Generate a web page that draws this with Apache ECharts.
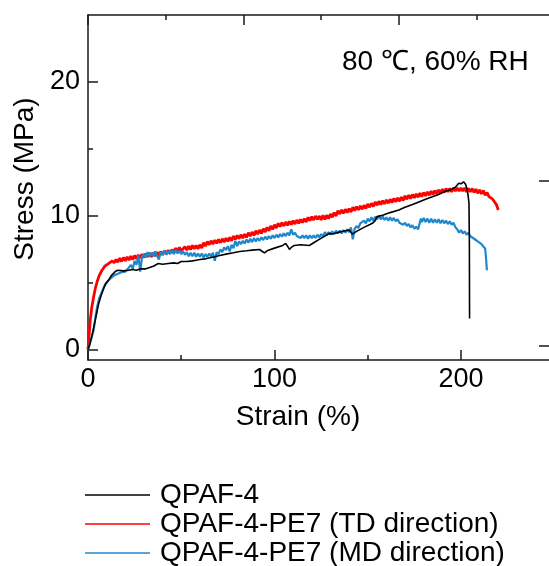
<!DOCTYPE html>
<html>
<head>
<meta charset="utf-8">
<script src="https://cdn.jsdelivr.net/npm/echarts@6/dist/echarts.min.js"></script>
<style>
  html, body { margin: 0; padding: 0; background: #fff; }
  #chart { width: 549px; height: 566px; }
</style>
</head>
<body>
<div id="chart"></div>
<script>
// data: [strain (%), stress (MPa)]
var qpaf4 = [[0,0],[1,0.4],[2.1,1.0],[3,1.6],[3.9,2.2],[4.8,2.8],[5.7,3.4],[7,4.0],[8.3,4.5],[9.5,4.9],[11,5.15],[12.5,5.5],[14.6,5.8],[16,5.9],[17,5.8],[19,5.85],[21.7,5.9],[24,5.95],[26,5.9],[28,6.0],[30.6,6.0],[33,6.1],[35,6.2],[37.7,6.4],[40,6.35],[43,6.4],[46,6.45],[48,6.4],[50,6.55],[53,6.55],[56,6.6],[58,6.65],[60,6.7],[63,6.75],[66,6.85],[68,6.9],[70.6,7.0],[74,7.1],[78,7.2],[81.3,7.3],[85,7.35],[88,7.4],[92,7.45],[93.5,7.3],[94.7,7.2],[96,7.35],[97,7.45],[100,7.55],[104.4,7.75],[106,7.9],[107,7.7],[108,7.45],[109,7.6],[110.6,7.75],[114,7.8],[118.7,7.75],[121,7.95],[124,8.2],[127,8.45],[129.4,8.65],[131,8.6],[135,8.75],[140,8.9],[141.8,8.6],[144,8.8],[148,9.1],[152.5,9.4],[154,9.6],[155,9.9],[158,10.0],[162,10.2],[166.7,10.4],[170,10.6],[174,10.8],[177.4,11.0],[181,11.2],[185,11.4],[188,11.55],[191,11.75],[195,11.95],[197,12.1],[198.8,12.4],[200,12.35],[201.4,12.5],[202.5,12.3],[203.2,12.0],[203.8,11.5],[204.3,10.9],[204.5,8.0],[204.6,2.3]];

var pe7TD = [[0,0],[0.6,1.0],[1.2,2.2],[2,3.1],[3,3.9],[4,4.6],[4.8,5.0],[6,5.5],[7.5,5.9],[9,6.2],[11,6.4],[12,6.3],[13,6.6],[14,6.45],[15,6.7],[16,6.5],[17,6.8],[18,6.55],[19,6.85],[20,6.6],[21,6.9],[22,6.65],[23,6.95],[24,6.7],[25,7.0],[26,6.75],[27,7.05],[28,6.8],[29,7.1],[30,6.85],[31,7.15],[32,6.9],[33,7.2],[34,6.9],[35,7.2],[36,6.95],[37,7.25],[38,7.0],[39,7.3],[40,7.05],[41,7.35],[42,7.1],[43,7.4],[44,7.15],[45,7.45],[46,7.2],[47,7.55],[48,7.3],[49,7.6],[50,7.35],[52,7.65],[53,7.4],[54,7.7],[55,7.45],[56,7.75],[57,7.5],[58,7.75],[59,7.5],[60,7.8],[61,7.55],[62,7.95],[63,7.7],[64,8.05],[65,7.8],[66,8.1],[67,7.85],[68,8.15],[69,7.9],[70,8.2],[71,7.95],[72,8.25],[73,8.0],[74,8.3],[75,8.05],[76,8.35],[77,8.1],[78,8.45],[79,8.2],[80,8.5],[81,8.25],[82,8.55],[83,8.3],[84,8.6],[85,8.35],[86,8.7],[87,8.45],[88,8.75],[89,8.5],[90,8.85],[91,8.6],[92,8.9],[93,8.65],[94,9.0],[95,8.75],[96,9.1],[97,8.85],[98,9.2],[99,8.95],[100,9.3],[101,9.05],[102,9.4],[103,9.15],[104,9.45],[105,9.2],[106,9.5],[107,9.25],[108,9.55],[109,9.3],[110,9.6],[111,9.35],[112,9.65],[113,9.4],[114,9.7],[115,9.45],[116,9.75],[117,9.5],[118,9.85],[119,9.6],[120,9.9],[121,9.65],[122,9.95],[123,9.7],[124,9.95],[125,9.65],[126,10.0],[127,9.7],[128,10.0],[129,9.75],[130,10.1],[131,9.85],[132,10.2],[133,9.95],[134,10.35],[135,10.1],[136,10.4],[137,10.15],[138,10.45],[139,10.2],[140,10.5],[141,10.25],[142,10.6],[143,10.35],[144,10.65],[145,10.4],[146,10.7],[147,10.45],[148,10.75],[149,10.5],[150,10.85],[151,10.6],[152,10.9],[153,10.65],[154,11.0],[155,10.75],[156,11.05],[157,10.8],[158,11.1],[159,10.85],[160,11.15],[161,10.9],[162,11.2],[163,10.95],[164,11.25],[165,11.0],[166,11.3],[167,11.05],[168,11.35],[169,11.1],[170,11.45],[171,11.2],[172,11.5],[173,11.25],[174,11.55],[175,11.3],[176,11.6],[177,11.35],[178,11.65],[179,11.4],[180,11.7],[181,11.45],[182,11.75],[183,11.5],[184,11.8],[185,11.55],[186,11.85],[187,11.6],[188,11.9],[189,11.65],[190,11.95],[191,11.7],[192,12.0],[193,11.75],[194,12.0],[195,11.75],[196,12.05],[197,11.8],[198,12.05],[199,11.8],[200,12.05],[201,11.8],[202,12.05],[203,11.75],[204,12.0],[205,11.75],[206,12.0],[207,11.7],[208,11.95],[209,11.65],[210,11.9],[211,11.6],[212,11.85],[213,11.5],[214,11.7],[215,11.4],[216,11.45],[217,11.2],[218,11.1],[219,10.8],[220,10.4]];

var pe7MD = [[0,0],[1,0.4],[2,0.9],[3,1.4],[3.8,2.2],[4.8,3.1],[6,3.8],[7.5,4.3],[9,4.8],[11,5.15],[13,5.4],[14.5,5.55],[16.3,5.65],[18,5.75],[20,5.8],[21,5.95],[22,5.85],[23,6.3],[24,6.0],[25,6.6],[26,6.3],[27,7.0],[28,5.8],[29,6.9],[30,7.1],[31,6.85],[32,7.25],[33,6.95],[34,7.2],[35,6.95],[36,7.3],[37,7.0],[38,6.7],[39,7.25],[40,7.05],[41,7.35],[42,7.05],[43,7.35],[44,7.1],[45,7.4],[46,7.1],[47,7.4],[48,7.15],[49,7.35],[50,7.1],[51,7.3],[52,7.05],[53,7.25],[54,6.95],[55,7.2],[56,6.95],[57,7.2],[58,6.9],[59,7.15],[60,6.9],[61,7.15],[62,6.85],[63,7.1],[64,6.9],[65,7.15],[66,6.9],[67,7.2],[68,6.6],[69,7.25],[70,7.1],[71,7.45],[72,7.25],[73,7.6],[74,7.4],[75,7.7],[76,7.3],[77,7.8],[78,7.55],[79,8.1],[80,7.7],[81,8.05],[82,7.85],[83,8.1],[84,7.9],[85,8.2],[86,7.95],[87,8.25],[88,8.0],[89,8.3],[90,8.05],[91,8.3],[92,8.1],[93,8.35],[94,8.15],[95,8.4],[96,8.2],[97,8.45],[98,8.25],[99,8.5],[100,8.3],[101,8.55],[102,8.35],[103,8.6],[104,8.4],[105,8.65],[106,8.45],[107,8.7],[108,8.5],[109,8.95],[110,8.55],[111,8.7],[112,8.45],[113,8.5],[114,8.3],[115,8.5],[116,8.3],[117,8.5],[118,8.25],[119,8.5],[120,8.3],[121,8.5],[122,8.3],[123,8.55],[124,8.35],[125,8.6],[126,8.4],[127,8.75],[128,8.5],[129,8.75],[130,8.55],[131,8.8],[132,8.6],[133,8.85],[134,8.65],[135,8.85],[136,8.65],[137,8.9],[138,8.7],[139,8.95],[140,8.75],[141,9.1],[142,8.2],[143,9.0],[144,9.2],[145,9.05],[146,9.4],[147,9.3],[148,9.6],[149,9.4],[150,9.75],[151,9.55],[152,9.85],[153,9.6],[154,9.9],[155,9.7],[156,9.95],[157,9.7],[158,9.9],[159,9.65],[160,9.85],[161,9.6],[162,9.85],[163,9.6],[164,9.8],[165,9.55],[166,9.7],[167,9.45],[168,9.55],[169,9.3],[170,9.45],[171,9.2],[172,9.35],[173,9.1],[174,9.25],[175,9.0],[176,9.15],[177,8.95],[177.6,9.05],[178.5,9.75],[179,9.5],[180,9.8],[181,9.5],[182,9.75],[183,9.45],[184,9.75],[185,9.45],[186,9.7],[187,9.45],[188,9.7],[189,9.4],[190,9.65],[191,9.4],[192,9.6],[193,9.35],[194,9.55],[195,9.3],[196,9.45],[197,9.1],[198,8.95],[199,8.7],[200,8.9],[201,8.65],[202,8.8],[203,8.55],[204,8.7],[205,8.45],[206,8.55],[207,8.25],[208,8.35],[209,8.05],[210,8.1],[211,7.85],[212,7.8],[213,7.5],[213.5,6.7],[213.9,5.9]];

var seriesNames = ['QPAF-4', 'QPAF-4-PE7 (TD direction)', 'QPAF-4-PE7 (MD direction)'];
var xTicks = [0, 100, 200];
var xMinorTicks = [50, 150];
var yTicks = [0, 10, 20];
var yMinorTicks = [5, 15];
// the top and right frame carry their own tick marks (in pixels along the frame)
var topTicks = [0, 156, 312];
var topMinorTicks = [78, 234, 390];
var rightTicks = [14, 179];

var FONT = '"Liberation Sans", Arial, sans-serif';
var AXIS_COLOR = '#1a1a1a';

var myChart = echarts.init(document.getElementById('chart'), null, {renderer: 'canvas'});

// value axis without labels, only used for tick marks (and maybe the frame line)
function tickAxis(pos, min, max, ticks, len, showLine) {
    return {
        type: 'value',
        position: pos,
        min: min,
        max: max,
        splitLine: {show: false},
        axisLine: {show: !!showLine, onZero: false, lineStyle: {color: AXIS_COLOR, width: 1.5}},
        axisLabel: {show: false},
        axisTick: {show: true, inside: true, length: len, customValues: ticks,
                   lineStyle: {color: AXIS_COLOR, width: 1.5}}
    };
}

var option = {
    animation: false,
    backgroundColor: '#fff',
    grid: {left: 88, top: 15, width: 463, height: 345},
    xAxis: [
        {
            type: 'value',
            position: 'bottom',
            min: 0,
            max: 247.2,
            splitLine: {show: false},
            axisLine: {show: true, onZero: false, lineStyle: {color: AXIS_COLOR, width: 1.5}},
            axisTick: {show: true, inside: true, length: 10, customValues: xTicks,
                       lineStyle: {color: AXIS_COLOR, width: 1.5}},
            axisLabel: {customValues: xTicks, color: '#000', fontFamily: FONT, fontSize: 27, margin: 6}
        },
        tickAxis('bottom', 0, 247.2, xMinorTicks, 5),
        tickAxis('top', 0, 463, topTicks, 10, true),
        tickAxis('top', 0, 463, topMinorTicks, 5)
    ],
    yAxis: [
        {
            type: 'value',
            position: 'left',
            min: -0.8,
            max: 24.95,
            splitLine: {show: false},
            axisLine: {show: true, onZero: false, lineStyle: {color: AXIS_COLOR, width: 1.5}},
            axisTick: {show: true, inside: true, length: 10, customValues: yTicks,
                       lineStyle: {color: AXIS_COLOR, width: 1.5}},
            axisLabel: {customValues: yTicks, color: '#000', fontFamily: FONT, fontSize: 27, margin: 8}
        },
        tickAxis('left', -0.8, 24.95, yMinorTicks, 5),
        tickAxis('right', 0, 345, rightTicks, 10)
    ],
    legend: {
        orient: 'vertical',
        left: 85,
        top: 481,
        height: 120,
        padding: 0,
        icon: 'rect',
        itemWidth: 65,
        itemHeight: 1.5,
        itemGap: 1,
        data: seriesNames,
        textStyle: {color: '#000', fontFamily: FONT, fontSize: 28, lineHeight: 27, padding: [0, 0, 0, 5]}
    },
    graphic: [
        {
            type: 'text', left: 342, top: 48,
            style: {text: '80 ℃, 60% RH', fontFamily: FONT, fontSize: 28, fill: '#000'}
        },
        {
            type: 'text', x: 298, y: 417,
            style: {text: 'Strain (%)', fontFamily: FONT, fontSize: 28, fill: '#000', align: 'center', verticalAlign: 'middle'}
        },
        {
            type: 'text', x: 25, y: 179, rotation: Math.PI / 2,
            style: {text: 'Stress (MPa)', fontFamily: FONT, fontSize: 28, fill: '#000', align: 'center', verticalAlign: 'middle'}
        }
    ],
    series: [
        {
            name: seriesNames[1], type: 'line', data: pe7TD, symbol: 'none',
            xAxisIndex: 0, yAxisIndex: 0,
            lineStyle: {color: '#ff0000', width: 2.8}, itemStyle: {color: '#ff0000'}
        },
        {
            name: seriesNames[2], type: 'line', data: pe7MD, symbol: 'none',
            xAxisIndex: 0, yAxisIndex: 0,
            lineStyle: {color: '#1f88cc', width: 2.2}, itemStyle: {color: '#1f88cc'}
        },
        {
            name: seriesNames[0], type: 'line', data: qpaf4, symbol: 'none',
            xAxisIndex: 0, yAxisIndex: 0,
            lineStyle: {color: '#000', width: 1.6}, itemStyle: {color: '#000'}
        }
    ]
};

myChart.setOption(option);
</script>
</body>
</html>
